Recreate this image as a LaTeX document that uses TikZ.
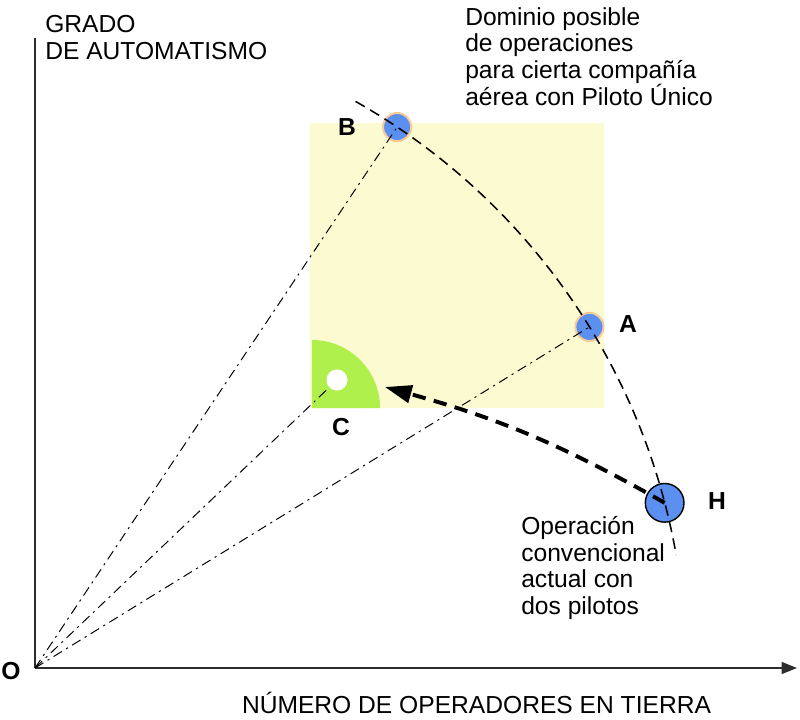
\documentclass[tikz,border=0pt]{standalone}
\usepackage{fontspec}
\setmainfont{Liberation Sans}
\usetikzlibrary{arrows.meta}
\definecolor{cPoint}{RGB}{91,143,240}
\definecolor{cRing}{RGB}{248,202,152}
\definecolor{cDomain}{RGB}{252,250,208}
\definecolor{cGreen}{RGB}{176,240,76}
\definecolor{axisgray}{RGB}{45,45,45}

\begin{document}
\begin{tikzpicture}[x=0.025cm, y=0.025cm, font=\fontsize{17.5}{19}\selectfont,
  radial/.style={dash pattern=on 7pt off 3.5pt on 1.5pt off 3.5pt, line width=0.7pt},
  locus/.style={dash pattern=on 7.5pt off 4.5pt, line width=1.1pt},
  opt/.style={circle, fill=cPoint, draw=cRing, line width=1.4pt, minimum size=20pt, inner sep=0pt},
  ptlabel/.style={font=\fontsize{17.5}{19}\selectfont\bfseries},
  note/.style={anchor=north west, align=left, inner sep=0pt}]
  \useasboundingbox (-35,-51) rectangle (765,668);
  % domain of single pilot operation
  \fill[cDomain] (275,260) rectangle (569,545);
  \fill[cGreen] (277,260) -- (277,328) arc[start angle=90, end angle=0, radius=1.7cm] -- cycle;
  \node[circle, fill=white, minimum size=15pt, inner sep=0pt] (C) at (302,288) {};
  % axes
  \coordinate (O) at (0,0);
  \draw[axisgray, line width=1.2pt, -{Triangle[length=11pt,width=8.5pt]}] (O) -- (762,0);
  \draw[axisgray, line width=1.2pt] (O) -- (0,630);
  % operating points on the locus
  \node[opt] (B) at (56.2:651) {};
  \node[opt] (A) at (31.6:651) {};
  \node[opt, draw=black, line width=1pt, minimum size=27.5pt] (H) at (14.7:651) {};
  \draw[radial] (O) -- (B.center);
  \draw[radial] (O) -- (A.center);
  \draw[radial] (O) -- (C);
  \draw[locus] (60.5:651) arc[start angle=60.5, end angle=10, radius=16.275cm];
  % transition H -> C
  \coordinate (tip) at (350,281);
  \draw[line width=2.8pt, dash pattern=on 9.5pt off 6pt, -{Triangle[length=19pt,width=12.5pt]}]
    (H.center) to[bend right=7] (tip);
  % labels
  \node[ptlabel] (lB) at (312,541) {B};
  \node[ptlabel] (lA) at (593,344) {A};
  \node[ptlabel] (lH) at (682,167) {H};
  \node[ptlabel] (lC) at (306,241) {C};
  \node[ptlabel] (lO) at (-24,-3) {O};
  \node[note] (ylabel) at (10,653) {GRADO\\DE AUTOMATISMO};
  \node[note] (dominio) at (430,661) {Dominio posible\\de operaciones\\para cierta compañía\\aérea con Piloto Único};
  \node[note] (conv) at (486,152) {Operación\\convencional\\actual con\\dos pilotos};
  \node[anchor=base] (xlabel) at (441.5,-45) {NÚMERO DE OPERADORES EN TIERRA};
\end{tikzpicture}
\end{document}
